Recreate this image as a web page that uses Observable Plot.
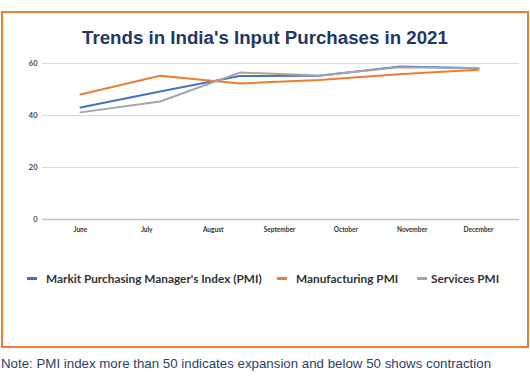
<!DOCTYPE html>
<html>
<head>
<meta charset="utf-8">
<script src="https://cdn.jsdelivr.net/npm/d3@7"></script>
<script src="https://cdn.jsdelivr.net/npm/@observablehq/plot@0.6"></script>
<style>
  html, body { margin: 0; padding: 0; background: #fff; }
  #wrap { position: relative; width: 530px; height: 380px; overflow: hidden; }
  #frame { position: absolute; left: 1px; top: 11px; width: 528px; height: 337px; box-sizing: border-box; border: 2px solid #ED7D31; }
  #title { position: absolute; left: 0; top: 27px; width: 530px; text-align: center; font-family: "Liberation Sans", Arial, sans-serif; font-weight: bold; font-size: 18.7px; color: #1F3864; }
  #chart { position: absolute; left: 0; top: 50px; }
  #legend { position: absolute; left: 0; top: 270px; width: 530px; font-family: Lato, "Open Sans", sans-serif; font-weight: 700; font-size: 11.8px; color: #333; }
  .item { position: absolute; top: 0; white-space: nowrap; display: flex; align-items: center; height: 16px; }
  .sw { display: inline-block; width: 10px; height: 3px; margin-right: 9px; }
  #note { position: absolute; left: 1px; top: 356px; font-family: "Liberation Sans", Arial, sans-serif; font-size: 13.3px; color: #2B3F6B; white-space: nowrap; }
</style>
</head>
<body>
<div id="wrap">
  <div id="frame"></div>
  <div id="title"></div>
  <div id="chart"></div>
  <div id="legend"></div>
  <div id="note"></div>
</div>
<script>
const titleText = "Trends in India's Input Purchases in 2021";
const noteText = "Note: PMI index more than 50 indicates expansion and below 50 shows contraction";
const months = ["June", "July", "August", "September", "October", "November", "December"];
const seriesNames = ["Markit Purchasing Manager's Index (PMI)", "Manufacturing PMI", "Services PMI"];
const seriesColors = ["#4472C4", "#ED7D31", "#A5A5A5"];
const compositePMI = [43.1, 49.2, 55.2, 55.3, 58.8, 58.2];
const manufacturingPMI = [48.1, 55.3, 52.3, 53.7, 55.9, 57.6];
const servicesPMI = [41.2, 45.4, 56.5, 55.4, 58.6, 58.3];
const yTicks = [0, 20, 40, 60];

document.getElementById("title").textContent = titleText;
document.getElementById("note").textContent = noteText;

const seriesValues = [compositePMI, manufacturingPMI, servicesPMI];
const rows = seriesValues.flatMap((vals, s) =>
  vals.map((v, i) => ({series: seriesNames[s], pos: i / (vals.length - 1), value: v})));
const monthRows = months.map((m, j) => ({month: m, pos: j / (months.length - 1)}));

const chart = Plot.plot({
  width: 530,
  height: 190,
  marginLeft: 42,
  marginRight: 11,
  marginTop: 13,
  marginBottom: 21,
  x: {domain: [0, 1], insetLeft: 38, insetRight: 41, axis: null},
  y: {domain: [0, 60], axis: null},
  color: {domain: seriesNames, range: seriesColors},
  style: {fontFamily: "Lato, sans-serif", background: "transparent"},
  marks: [
    Plot.ruleY(yTicks.filter(d => d > 0), {stroke: "#D9D9D9", strokeWidth: 1}),
    Plot.ruleY([0], {stroke: "#BFBFBF", strokeWidth: 1.5}),
    Plot.text(yTicks, {y: d => d, text: d => String(d), frameAnchor: "left", textAnchor: "end", dx: -5, fontSize: 7.5, fill: "#333", fontWeight: 600}),
    Plot.text(monthRows, {x: "pos", y: 0, text: "month", dy: 10, fontSize: 6.5, fontWeight: 700, fill: "#333"}),
    Plot.lineY(rows, {x: "pos", y: "value", z: "series", stroke: "series", strokeWidth: 2})
  ]
});
document.getElementById("chart").appendChild(chart);

const legend = document.getElementById("legend");
const lefts = [27, 277, 417];
seriesNames.forEach((n, i) => {
  const it = document.createElement("div");
  it.className = "item";
  it.style.left = lefts[i] + "px";
  const sw = document.createElement("span");
  sw.className = "sw";
  sw.style.background = seriesColors[i];
  if (i === 2) sw.style.marginRight = "4px";
  it.appendChild(sw);
  it.appendChild(document.createTextNode(n));
  legend.appendChild(it);
});
</script>
</body>
</html>
